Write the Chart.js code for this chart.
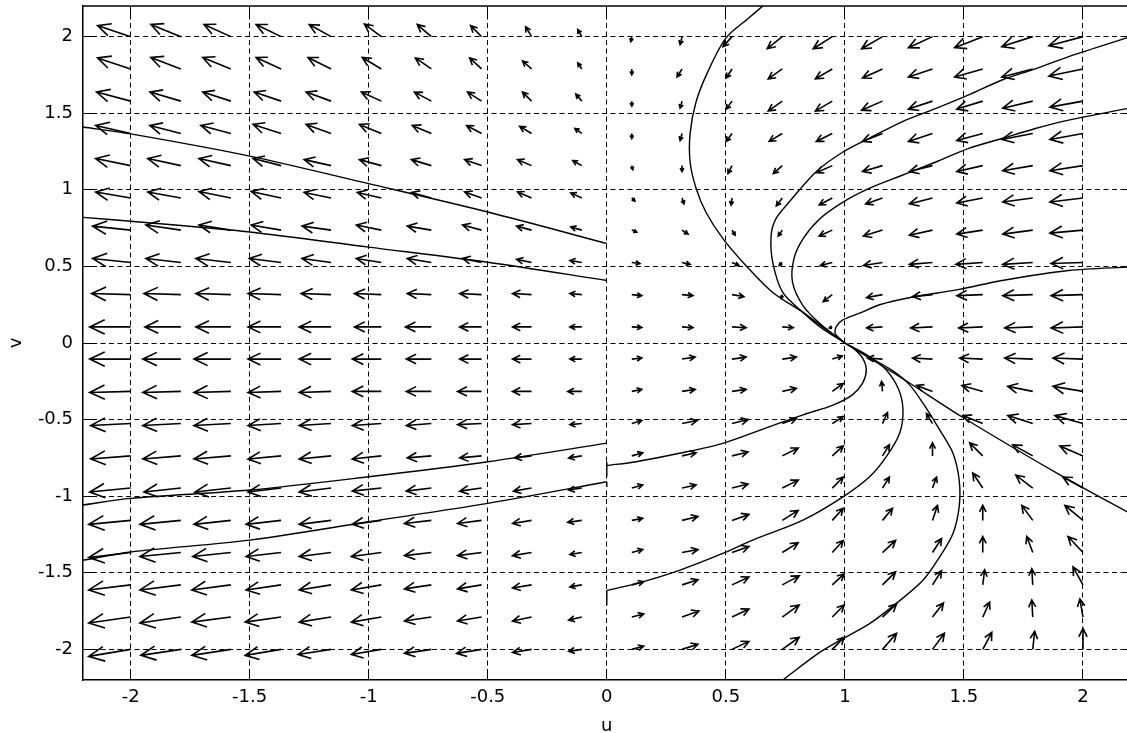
<!DOCTYPE html>
<html>
<head>
<meta charset="utf-8">
<title>Phase portrait</title>
<script src="https://cdn.jsdelivr.net/npm/chart.js@4.4.1/dist/chart.umd.min.js"></script>
<style>
  html, body { margin: 0; padding: 0; background: #fff; overflow: hidden; }
  canvas { display: block; }
</style>
</head>
<body>
<canvas id="phase" width="1140" height="737"></canvas>
<script>
// Axis ticks
const uTicks = [-2, -1.5, -1, -0.5, 0, 0.5, 1, 1.5, 2];
const uTickLabels = ['-2', '-1.5', '-1', '-0.5', '0', '0.5', '1', '1.5', '2'];
const vTicks = [-2, -1.5, -1, -0.5, 0, 0.5, 1, 1.5, 2];
const vTickLabels = ['-2', '-1.5', '-1', '-0.5', '0', '0.5', '1', '1.5', '2'];

// Direction field: arrow tails on a 20 x 20 grid
const arrowU = [-2, -1.789, -1.579, -1.368, -1.158, -0.947, -0.737, -0.526, -0.316, -0.105,
                0.105, 0.316, 0.526, 0.737, 0.947, 1.158, 1.368, 1.579, 1.789, 2];
const arrowV = [-2, -1.789, -1.579, -1.368, -1.158, -0.947, -0.737, -0.526, -0.316, -0.105,
                0.105, 0.316, 0.526, 0.737, 0.947, 1.158, 1.368, 1.579, 1.789, 2];

// Arrow components (du), one row per entry of arrowV
const arrowDU = [
  [-0.176,-0.168,-0.164,-0.151,-0.139,-0.126,-0.113,-0.105,-0.080,-0.055, 0.050, 0.067, 0.071, 0.071, 0.050, 0.059, 0.050, 0.038, 0.008, 0.000],
  [-0.176,-0.172,-0.164,-0.151,-0.134,-0.126,-0.113,-0.101,-0.080,-0.055, 0.050, 0.071, 0.071, 0.071, 0.050, 0.059, 0.046, 0.029,-0.004,-0.013],
  [-0.176,-0.172,-0.164,-0.147,-0.134,-0.126,-0.113,-0.101,-0.080,-0.050, 0.050, 0.067, 0.071, 0.071, 0.050, 0.055, 0.038, 0.008,-0.004,-0.042],
  [-0.176,-0.172,-0.160,-0.147,-0.134,-0.126,-0.113,-0.101,-0.080,-0.050, 0.046, 0.067, 0.071, 0.067, 0.046, 0.055, 0.038, 0.000,-0.025,-0.063],
  [-0.176,-0.172,-0.155,-0.147,-0.134,-0.122,-0.113,-0.101,-0.080,-0.059, 0.046, 0.067, 0.071, 0.067, 0.046, 0.042, 0.021, 0.000,-0.046,-0.076],
  [-0.172,-0.155,-0.151,-0.139,-0.134,-0.122,-0.105,-0.092,-0.076,-0.055, 0.046, 0.059, 0.067, 0.067, 0.046, 0.029, 0.017,-0.042,-0.071,-0.084],
  [-0.168,-0.160,-0.155,-0.139,-0.134,-0.122,-0.101,-0.092,-0.071,-0.055, 0.046, 0.059, 0.067, 0.067, 0.046, 0.029, 0.000,-0.055,-0.084,-0.097],
  [-0.168,-0.160,-0.155,-0.139,-0.134,-0.122,-0.105,-0.101,-0.080,-0.050, 0.042, 0.063, 0.067, 0.059, 0.046, 0.021,-0.025,-0.084,-0.105,-0.118],
  [-0.172,-0.160,-0.155,-0.139,-0.134,-0.122,-0.105,-0.101,-0.080,-0.059, 0.042, 0.055, 0.059, 0.059, 0.046,-0.004,-0.067,-0.088,-0.105,-0.126],
  [-0.172,-0.160,-0.155,-0.139,-0.134,-0.122,-0.105,-0.092,-0.080,-0.050, 0.042, 0.055, 0.059, 0.059, 0.042,-0.063,-0.084,-0.097,-0.118,-0.126],
  [-0.172,-0.151,-0.147,-0.139,-0.134,-0.113,-0.109,-0.092,-0.080,-0.050, 0.042, 0.046, 0.059, 0.046,-0.013,-0.067,-0.092,-0.101,-0.118,-0.134],
  [-0.164,-0.155,-0.147,-0.139,-0.126,-0.113,-0.101,-0.092,-0.080,-0.050, 0.042, 0.046, 0.050,-0.004,-0.038,-0.067,-0.084,-0.109,-0.126,-0.134],
  [-0.160,-0.147,-0.147,-0.134,-0.122,-0.105,-0.101,-0.080,-0.063,-0.050, 0.034, 0.034, 0.029,-0.013,-0.050,-0.080,-0.097,-0.113,-0.126,-0.134],
  [-0.160,-0.147,-0.134,-0.126,-0.122,-0.105,-0.101,-0.080,-0.063,-0.046, 0.021, 0.025, 0.013,-0.017,-0.055,-0.080,-0.097,-0.109,-0.126,-0.139],
  [-0.147,-0.139,-0.134,-0.126,-0.113,-0.101,-0.084,-0.071,-0.059,-0.046, 0.013, 0.008,-0.004,-0.025,-0.055,-0.071,-0.097,-0.109,-0.126,-0.139],
  [-0.147,-0.139,-0.134,-0.118,-0.113,-0.092,-0.084,-0.071,-0.059,-0.038, 0.004, 0.000,-0.017,-0.038,-0.067,-0.084,-0.097,-0.109,-0.126,-0.139],
  [-0.147,-0.130,-0.126,-0.118,-0.105,-0.092,-0.080,-0.063,-0.050,-0.029, 0.000,-0.008,-0.025,-0.055,-0.067,-0.084,-0.101,-0.109,-0.130,-0.139],
  [-0.143,-0.130,-0.118,-0.113,-0.105,-0.084,-0.071,-0.059,-0.038,-0.025, 0.000,-0.008,-0.025,-0.059,-0.071,-0.088,-0.101,-0.109,-0.126,-0.139],
  [-0.139,-0.126,-0.118,-0.105,-0.097,-0.080,-0.067,-0.050,-0.038,-0.017, 0.000,-0.021,-0.025,-0.059,-0.071,-0.084,-0.101,-0.118,-0.130,-0.143],
  [-0.139,-0.126,-0.113,-0.105,-0.092,-0.071,-0.059,-0.046,-0.025,-0.017,-0.004,-0.008,-0.038,-0.063,-0.080,-0.088,-0.101,-0.118,-0.130,-0.143]
];

// Arrow components (dv), one row per entry of arrowV
const arrowDV = [
  [-0.046,-0.039,-0.039,-0.039,-0.033,-0.033,-0.026,-0.026,-0.020,-0.013, 0.020, 0.033, 0.052, 0.079, 0.079, 0.105, 0.105, 0.111, 0.118, 0.137],
  [-0.039,-0.039,-0.033,-0.033,-0.033,-0.033,-0.026,-0.026,-0.026,-0.020, 0.020, 0.039, 0.052, 0.079, 0.079, 0.085, 0.092, 0.098, 0.111, 0.118],
  [-0.033,-0.033,-0.033,-0.033,-0.033,-0.033,-0.026,-0.026,-0.020,-0.013, 0.020, 0.033, 0.052, 0.059, 0.072, 0.085, 0.092, 0.098, 0.105, 0.118],
  [-0.033,-0.026,-0.026,-0.026,-0.026,-0.026,-0.020,-0.020,-0.020,-0.013, 0.020, 0.020, 0.039, 0.065, 0.079, 0.079, 0.092, 0.105, 0.105, 0.105],
  [-0.026,-0.026,-0.026,-0.026,-0.026,-0.026,-0.020,-0.020,-0.020,-0.013, 0.013, 0.026, 0.039, 0.065, 0.079, 0.079, 0.098, 0.098, 0.098, 0.098],
  [-0.026,-0.026,-0.026,-0.026,-0.026,-0.020,-0.020,-0.020,-0.020,-0.013, 0.020, 0.020, 0.026, 0.052, 0.072, 0.072, 0.072, 0.098, 0.085, 0.072],
  [-0.020,-0.020,-0.020,-0.020,-0.020,-0.020,-0.013,-0.013,-0.013,-0.013, 0.020, 0.020, 0.026, 0.052, 0.065, 0.072, 0.085, 0.085, 0.072, 0.065],
  [-0.013,-0.013,-0.013,-0.013,-0.013,-0.013,-0.013,-0.007,-0.007,-0.007, 0.020, 0.020, 0.026, 0.033, 0.046, 0.072, 0.065, 0.052, 0.052, 0.052],
  [-0.007,-0.007,-0.007,-0.007,-0.007, 0.000, 0.000, 0.000, 0.000, 0.000, 0.013, 0.013, 0.013, 0.020, 0.052, 0.065, 0.039, 0.039, 0.033, 0.033],
  [ 0.000, 0.000, 0.000, 0.000, 0.000, 0.000, 0.000, 0.000, 0.000, 0.000, 0.007, 0.013, 0.013, 0.013, 0.020, 0.007, 0.007, 0.007, 0.007, 0.007],
  [ 0.000, 0.000, 0.000, 0.000, 0.000, 0.000, 0.000, 0.000, 0.000, 0.000,-0.003,-0.005,-0.005,-0.005,-0.007,-0.007,-0.007,-0.007,-0.007,-0.007],
  [ 0.007, 0.007, 0.007, 0.007, 0.007, 0.007, 0.007, 0.007, 0.007, 0.007,-0.007,-0.007,-0.013,-0.026,-0.046,-0.020,-0.013,-0.007,-0.007,-0.007],
  [ 0.026, 0.026, 0.026, 0.026, 0.026, 0.026, 0.026, 0.026, 0.020, 0.013,-0.007,-0.013,-0.020,-0.020,-0.020,-0.020,-0.013,-0.013,-0.013,-0.007],
  [ 0.026, 0.033, 0.033, 0.033, 0.026, 0.033, 0.026, 0.033, 0.026, 0.020,-0.013,-0.026,-0.033,-0.039,-0.039,-0.039,-0.033,-0.026,-0.026,-0.020],
  [ 0.039, 0.039, 0.042, 0.042, 0.036, 0.036, 0.036, 0.039, 0.039, 0.033,-0.020,-0.039,-0.046,-0.052,-0.046,-0.039,-0.039,-0.033,-0.026,-0.026],
  [ 0.046, 0.046, 0.046, 0.046, 0.039, 0.039, 0.039, 0.039, 0.039, 0.033,-0.026,-0.039,-0.052,-0.052,-0.046,-0.039,-0.039,-0.039,-0.033,-0.033],
  [ 0.052, 0.052, 0.052, 0.059, 0.059, 0.059, 0.052, 0.052, 0.046, 0.033,-0.033,-0.046,-0.052,-0.052,-0.052,-0.052,-0.052,-0.046,-0.039,-0.039],
  [ 0.059, 0.059, 0.059, 0.059, 0.059, 0.059, 0.059, 0.059, 0.059, 0.046,-0.033,-0.046,-0.052,-0.065,-0.065,-0.059,-0.052,-0.052,-0.046,-0.039],
  [ 0.072, 0.075, 0.075, 0.075, 0.075, 0.075, 0.072, 0.072, 0.052, 0.039,-0.039,-0.052,-0.059,-0.065,-0.065,-0.059,-0.052,-0.052,-0.052,-0.046],
  [ 0.072, 0.079, 0.079, 0.079, 0.079, 0.082, 0.079, 0.072, 0.065, 0.046,-0.033,-0.052,-0.065,-0.079,-0.079,-0.079,-0.072,-0.072,-0.065,-0.059]
];

// Solution curves, [u, v] points
const trajL1 = [[-2.2, 1.41], [-2.0, 1.365], [-1.5, 1.22], [-1.0, 1.04], [-0.5, 0.855], [0, 0.65]];
const trajL2 = [[-2.2, 0.82], [-2.0, 0.795], [-1.5, 0.725], [-1.0, 0.626], [-0.5, 0.527], [0, 0.408]];
const trajL3 = [[-2.2, -1.058], [-2.0, -1.014], [-1.5, -0.96], [-1.0, -0.873], [-0.5, -0.775], [0, -0.654]];
const trajL4 = [[-2.2, -1.418], [-2.0, -1.364], [-1.5, -1.287], [-1.0, -1.167], [-0.5, -1.047], [0, -0.906]];

const trajR1 = [[0.655, 2.2], [0.595, 2.12], [0.5, 1.99], [0.424, 1.77], [0.375, 1.575], [0.35, 1.37],
                [0.35, 1.18], [0.375, 1.01], [0.416, 0.855], [0.487, 0.683], [0.584, 0.506], [0.697, 0.33],
                [0.824, 0.2], [0.92, 0.09], [1, 0]];
const trajR2 = [[1, 0], [0.9, 0.1], [0.824, 0.2], [0.739, 0.33], [0.697, 0.527], [0.69, 0.70], [0.71, 0.81],
                [0.766, 0.92], [0.878, 1.117], [0.992, 1.247], [1.1, 1.335], [1.24, 1.444], [1.38, 1.53],
                [1.52, 1.62], [1.66, 1.717], [1.8, 1.79], [1.94, 1.87], [2.2, 2.0]];
const trajR3 = [[1, 0], [0.9, 0.12], [0.824, 0.244], [0.78, 0.397], [0.786, 0.55], [0.824, 0.68], [0.894, 0.81],
                [0.992, 0.92], [1.1, 1.008], [1.24, 1.095], [1.38, 1.18], [1.52, 1.27], [1.66, 1.335],
                [1.8, 1.40], [1.94, 1.455], [2.2, 1.535]];
const trajR4 = [[1, 0], [0.96, 0.06], [0.965, 0.11], [0.99, 0.15], [1.07, 0.2], [1.146, 0.25], [1.286, 0.3],
                [1.48, 0.35], [1.66, 0.408], [1.94, 0.473], [2.2, 0.497]];
const trajR5 = [[1, 0], [1.25, -0.24], [1.489, -0.48], [1.916, -0.873], [2.2, -1.115]];
const trajR6 = [[0, -0.80], [0.123, -0.775], [0.305, -0.72], [0.487, -0.655], [0.684, -0.546], [0.824, -0.469],
                [0.95, -0.405], [1.03, -0.34], [1.075, -0.26], [1.09, -0.175], [1.075, -0.1], [1.04, -0.04], [1, 0]];
const trajR7 = [[0, -1.615], [0.123, -1.571], [0.305, -1.484], [0.487, -1.374], [0.613, -1.287], [0.824, -1.156],
                [0.992, -1.004], [1.104, -0.873], [1.174, -0.742], [1.23, -0.589], [1.244, -0.437],
                [1.225, -0.30], [1.17, -0.17], [1.09, -0.075], [1, 0]];
const trajR8 = [[1, 0], [1.1, -0.09], [1.2, -0.18], [1.27, -0.27], [1.328, -0.393], [1.398, -0.567], [1.454, -0.72],
                [1.48, -0.895], [1.48, -1.07], [1.454, -1.243], [1.398, -1.397], [1.328, -1.549], [1.216, -1.70],
                [1.104, -1.832], [0.992, -1.93], [0.894, -2.02], [0.739, -2.2]];

// Short jumps of the solver along the singular line u = 0
const jumpA = [[0, -0.775], [0, -0.873]];
const jumpB = [[0, -1.615], [0, -1.71]];
const jumpC = [[0, -0.906], [0, -0.94]];

const curves = [trajL1, trajL2, trajL3, trajL4, trajR1, trajR2, trajR3, trajR4, trajR5, trajR6, trajR7, trajR8];
const jumps = [jumpA, jumpB, jumpC];

const toPoints = pts => pts.map(([u, v]) => ({ x: u, y: v }));
const datasets = [
  ...curves.map(c => ({
    data: toPoints(c), borderColor: '#000', borderWidth: 1.4, pointRadius: 0,
    tension: 0.3, fill: false
  })),
  ...jumps.map(c => ({
    data: toPoints(c), borderColor: '#000', borderWidth: 1.4, pointRadius: 0,
    tension: 0, fill: false
  }))
];

// Quiver arrows drawn through the chart scales
const quiverPlugin = {
  id: 'quiver',
  beforeDatasetsDraw(chart) {
    const { ctx, chartArea: a, scales: { x, y } } = chart;
    ctx.save();
    ctx.beginPath();
    ctx.rect(a.left, a.top, a.right - a.left, a.bottom - a.top);
    ctx.clip();
    ctx.strokeStyle = '#000';
    ctx.lineWidth = 1.6;
    ctx.lineJoin = 'miter';
    ctx.beginPath();
    arrowV.forEach((v0, j) => {
      arrowU.forEach((u0, k) => {
        const du = arrowDU[j][k], dv = arrowDV[j][k];
        const x0 = x.getPixelForValue(u0), y0 = y.getPixelForValue(v0);
        const x1 = x.getPixelForValue(u0 + du), y1 = y.getPixelForValue(v0 + dv);
        const len = Math.hypot(x1 - x0, y1 - y0);
        if (len < 0.5) return;
        const ex = (x1 - x0) / len, ey = (y1 - y0) / len;
        const back = 0.33 * len + 1.5, half = 0.15 * len + 1;
        ctx.moveTo(x0, y0);
        ctx.lineTo(x1, y1);
        ctx.moveTo(x1 - back * ex + half * ey, y1 - back * ey - half * ex);
        ctx.lineTo(x1, y1);
        ctx.lineTo(x1 - back * ex - half * ey, y1 - back * ey + half * ex);
      });
    });
    ctx.stroke();
    ctx.restore();
  }
};

// Box outline and inward tick marks
const framePlugin = {
  id: 'frame',
  afterDraw(chart) {
    const { ctx, chartArea: a, scales: { x, y } } = chart;
    const align = p => Math.round(p - 0.5) + 0.5;
    const t = 9;
    ctx.save();
    ctx.strokeStyle = '#000';
    ctx.lineWidth = 1.5;
    ctx.beginPath();
    ctx.moveTo(a.left, a.top);
    ctx.lineTo(a.right, a.top);
    ctx.lineTo(a.right, a.bottom);
    ctx.stroke();
    ctx.lineWidth = 1;
    ctx.beginPath();
    uTicks.forEach(v => {
      const px = align(x.getPixelForValue(v));
      ctx.moveTo(px, a.bottom); ctx.lineTo(px, a.bottom - t);
      ctx.moveTo(px, a.top); ctx.lineTo(px, a.top + t);
    });
    vTicks.forEach(v => {
      const py = align(y.getPixelForValue(v));
      ctx.moveTo(a.left, py); ctx.lineTo(a.left + t, py);
      ctx.moveTo(a.right, py); ctx.lineTo(a.right - t, py);
    });
    ctx.stroke();
    ctx.restore();
  }
};

const axisFont = { family: 'DejaVu Sans', size: 18 };

new Chart(document.getElementById('phase'), {
  type: 'line',
  data: { datasets },
  options: {
    responsive: false,
    animation: false,
    devicePixelRatio: 1,
    events: [],
    layout: { padding: { left: 0, right: 9.4, top: 6, bottom: 0 } },
    plugins: { legend: { display: false }, tooltip: { enabled: false } },
    scales: {
      x: {
        type: 'linear', min: -2.2, max: 2.2,
        afterBuildTicks: s => { s.ticks = uTicks.map(value => ({ value })); },
        afterFit: s => { s.height = 57; s.paddingLeft = 0; s.paddingRight = 0; },
        ticks: { callback: (v, i) => uTickLabels[i], color: '#000', font: axisFont, padding: 7, maxRotation: 0, autoSkip: false },
        grid: { color: '#000', lineWidth: 1, drawTicks: false },
        border: { display: true, color: '#000', width: 1.5, dash: [5, 3.5] },
        title: { display: true, text: 'u', color: '#000', font: axisFont, padding: { top: 0, bottom: 0 } }
      },
      y: {
        type: 'linear', min: -2.2, max: 2.2,
        afterBuildTicks: s => { s.ticks = vTicks.map(value => ({ value })); },
        afterFit: s => { s.width = 83; s.paddingTop = 0; s.paddingBottom = 0; },
        ticks: { callback: (v, i) => vTickLabels[i], color: '#000', font: axisFont, padding: 10, autoSkip: false },
        grid: { color: '#000', lineWidth: 1, drawTicks: false },
        border: { display: true, color: '#000', width: 1.5, dash: [5, 3.5] },
        title: { display: true, text: 'v', color: '#000', font: axisFont, padding: { top: 6, bottom: 0 } }
      }
    }
  },
  plugins: [quiverPlugin, framePlugin]
});
</script>
</body>
</html>
